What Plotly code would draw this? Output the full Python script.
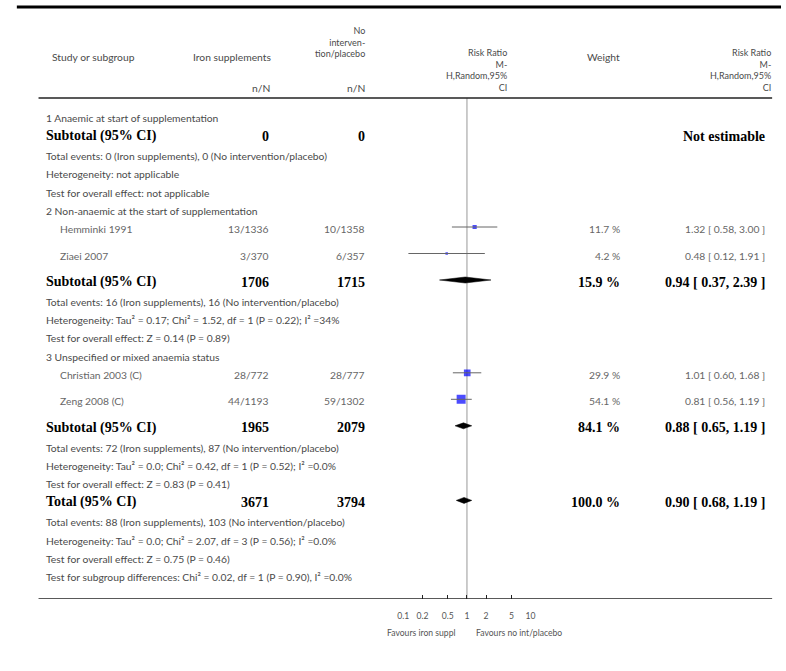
import math
import plotly.graph_objects as go

W, H = 786, 671

# ---------------- data ----------------
subgroups = [
    "1 Anaemic at start of supplementation",
    "2 Non-anaemic at the start of supplementation",
    "3 Unspecified or mixed anaemia status",
]

study_names = ["Hemminki 1991", "Ziaei 2007", "Christian 2003 (C)", "Zeng 2008 (C)"]
study_group = [1, 1, 2, 2]
iron_nN = ["13/1336", "3/370", "28/772", "44/1193"]
ctrl_nN = ["10/1358", "6/357", "28/777", "59/1302"]
study_rr = [1.32, 0.48, 1.01, 0.81]
study_lo = [0.58, 0.12, 0.60, 0.56]
study_hi = [3.00, 1.91, 1.68, 1.19]
study_weight = [11.7, 4.2, 29.9, 54.1]

sub_iron_N = [0, 1706, 1965]
sub_ctrl_N = [0, 1715, 2079]
sub_weight = [None, 15.9, 84.1]
sub_rr = [None, 0.94, 0.88]
sub_lo = [None, 0.37, 0.65]
sub_hi = [None, 2.39, 1.19]
sub_events = [
    "Total events: 0 (Iron supplements), 0 (No intervention/placebo)",
    "Total events: 16 (Iron supplements), 16 (No intervention/placebo)",
    "Total events: 72 (Iron supplements), 87 (No intervention/placebo)",
]
sub_het = [
    "Heterogeneity: not applicable",
    "Heterogeneity: Tau² = 0.17; Chi² = 1.52, df = 1 (P = 0.22); I² =34%",
    "Heterogeneity: Tau² = 0.0; Chi² = 0.42, df = 1 (P = 0.52); I² =0.0%",
]
sub_test = [
    "Test for overall effect: not applicable",
    "Test for overall effect: Z = 0.14 (P = 0.89)",
    "Test for overall effect: Z = 0.83 (P = 0.41)",
]

total_iron_N = 3671
total_ctrl_N = 3794
total_weight = 100.0
total_rr = 0.90
total_lo = 0.68
total_hi = 1.19
total_lines = [
    "Total events: 88 (Iron supplements), 103 (No intervention/placebo)",
    "Heterogeneity: Tau² = 0.0; Chi² = 2.07, df = 3 (P = 0.56); I² =0.0%",
    "Test for overall effect: Z = 0.75 (P = 0.46)",
    "Test for subgroup differences: Chi² = 0.02, df = 1 (P = 0.90), I² =0.0%",
]

tick_vals = [0.1, 0.2, 0.5, 1, 2, 5, 10]
tick_text = ["0.1", "0.2", "0.5", "1", "2", "5", "10"]
favours_left = "Favours iron suppl"
favours_right = "Favours no int/placebo"

# ---------------- layout constants ----------------
SANS = "Lato"
SERIF = "Liberation Serif"
FS = 10.3               # body / header text size
HEAD_FS = 9             # stacked column headings
BOLD_FS = 14
GREY = "#4a4a4a"
LIGHT = "#666666"
AXIS_Y = 599               # pixel row of the axis line
PLOT_L, PLOT_R = 403, 532  # pixel span of log10 range [-1, 1]

X_NAME, X_STUDY = 41, 55
X_IRON, X_CTRL = 267, 364
X_WEIGHT, X_RR = 623, 770

# ---------------- row structure ----------------
rows = []
for g, title in enumerate(subgroups):
    rows.append(("title", g))
    for i in range(len(study_names)):
        if study_group[i] == g:
            rows.append(("study", i))
    rows.append(("subtotal", g))
    rows.append(("stat", sub_events[g]))
    rows.append(("stat", sub_het[g]))
    rows.append(("stat", sub_test[g]))
rows.append(("total", None))
for line in total_lines:
    rows.append(("stat", line))

row_y = []
y = 118.0
prev = None
for kind, _ in rows:
    if prev is not None:
        if prev == "study":
            y += 26.5
        elif prev in ("subtotal", "total"):
            y += 20.0
        else:
            y += 18.2
    row_y.append(y)
    prev = kind

MARK_DY = -2.0

annotations = []


def px(x):
    return x / W


def label(text, x, y, anchor="left", size=FS, color=GREY, family=SANS, yref="y"):
    annotations.append(dict(
        text=text, x=px(x), y=y, xref="paper", yref=yref,
        xanchor=anchor, yanchor="middle", showarrow=False, align=anchor,
        borderpad=0, borderwidth=0,
        font=dict(family=family, size=size, color=color),
    ))


def below(py):
    return (AXIS_Y - py) / AXIS_Y


def rr_text(r, lo, hi):
    return f"{r:.2f} [ {lo:.2f}, {hi:.2f} ]"


fig = go.Figure()

ci_x, ci_y = [], []
sq_x, sq_y, sq_s = [], [], []
diamonds = []

for (kind, ref), yy in zip(rows, row_y):
    if kind == "title":
        label(subgroups[ref], X_NAME, yy)
    elif kind == "stat":
        label(ref, X_NAME, yy)
    elif kind == "study":
        i = ref
        label(study_names[i], X_STUDY, yy, color=LIGHT)
        label(iron_nN[i], X_IRON, yy, anchor="right", color=LIGHT)
        label(ctrl_nN[i], X_CTRL, yy, anchor="right", color=LIGHT)
        label(f"{study_weight[i]:.1f} %", X_WEIGHT, yy, anchor="right", color=LIGHT)
        label(rr_text(study_rr[i], study_lo[i], study_hi[i]), X_RR, yy,
              anchor="right", color=LIGHT)
        ci_x += [study_lo[i], study_hi[i], None]
        ci_y += [yy + MARK_DY, yy + MARK_DY, None]
        sq_x.append(study_rr[i])
        sq_y.append(yy + MARK_DY)
        sq_s.append(1.22 * math.sqrt(study_weight[i]))
    elif kind in ("subtotal", "total"):
        if kind == "subtotal":
            g = ref
            name = "Subtotal (95% CI)"
            n1, n2 = sub_iron_N[g], sub_ctrl_N[g]
            w, r, lo, hi = sub_weight[g], sub_rr[g], sub_lo[g], sub_hi[g]
        else:
            name = "Total (95% CI)"
            n1, n2 = total_iron_N, total_ctrl_N
            w, r, lo, hi = total_weight, total_rr, total_lo, total_hi
        bold = dict(size=BOLD_FS, color="black", family=SERIF)
        label(f"<b>{name}</b>", X_NAME, yy, **bold)
        label(f"<b>{n1}</b>", X_IRON, yy, anchor="right", **bold)
        label(f"<b>{n2}</b>", X_CTRL, yy, anchor="right", **bold)
        if w is None:
            label("<b>Not estimable</b>", X_RR, yy, anchor="right", **bold)
        else:
            label(f"<b>{w:.1f} %</b>", X_WEIGHT, yy, anchor="right", **bold)
            label(f"<b>{rr_text(r, lo, hi)}</b>", X_RR, yy, anchor="right", **bold)
            diamonds.append((r, lo, hi, yy + MARK_DY))

# study squares, area proportional to weight
fig.add_trace(go.Scatter(
    x=sq_x, y=sq_y, mode="markers",
    marker=dict(symbol="square", size=sq_s, color="#0000ff", line=dict(width=0)),
    hoverinfo="skip", showlegend=False,
))
# confidence interval whiskers, drawn across the squares
fig.add_trace(go.Scatter(
    x=ci_x, y=ci_y, mode="lines",
    line=dict(color="#666666", width=1), hoverinfo="skip", showlegend=False,
))
# pooled-estimate diamonds
for r, lo, hi, yy in diamonds:
    fig.add_trace(go.Scatter(
        x=[lo, r, hi, r, lo], y=[yy, yy - 3, yy, yy + 3, yy],
        mode="lines", fill="toself", fillcolor="black",
        line=dict(color="black", width=0.5), hoverinfo="skip", showlegend=False,
    ))

# ---------------- header ----------------
label("Study or subgroup", 47, 57)
label("Iron supplements", 269, 57, anchor="right")
label("No<br>interven-<br>tion/placebo", X_CTRL, 41.5, anchor="right", size=HEAD_FS)
label("n/N", X_IRON + 1, 88, anchor="right")
label("n/N", X_CTRL, 88, anchor="right")
label("Risk Ratio<br>M-<br>H,Random,95%<br>CI", 508, 69.5, anchor="right", size=HEAD_FS)
label("Weight", X_WEIGHT, 57, anchor="right")
label("Risk Ratio<br>M-<br>H,Random,95%<br>CI", 776, 69.5, anchor="right", size=HEAD_FS)

# ---------------- footer ----------------
label(favours_left, 456, below(633), anchor="right", size=8.6, color="#555555", yref="paper")
label(favours_right, 477, below(633), anchor="left", size=8.6, color="#555555", yref="paper")

shapes = [
    # heavy top rule
    dict(type="line", xref="paper", yref="y", x0=px(11), x1=px(786), y0=7, y1=7,
         line=dict(color="black", width=3)),
    # rule under the column header
    dict(type="line", xref="paper", yref="y", x0=px(33), x1=px(777), y0=98, y1=98,
         line=dict(color="#222222", width=1.5)),
    # axis rule
    dict(type="line", xref="paper", yref="y", x0=px(33), x1=px(777),
         y0=AXIS_Y, y1=AXIS_Y, line=dict(color="#222222", width=1.5)),
    # line of no effect
    dict(type="line", xref="x", yref="y", x0=1, x1=1, y0=98, y1=AXIS_Y,
         line=dict(color="#999999", width=1), layer="below"),
]

fig.update_layout(
    width=W, height=H,
    margin=dict(l=0, r=0, t=0, b=H - AXIS_Y, pad=0),
    paper_bgcolor="white", plot_bgcolor="white",
    showlegend=False,
    annotations=annotations,
    shapes=shapes,
    xaxis=dict(
        type="log", range=[-1, 1],
        domain=[PLOT_L / W, PLOT_R / W],
        tickvals=tick_vals, ticktext=tick_text,
        ticks="inside", ticklen=4, tickwidth=1.2, tickcolor="#222222",
        tickfont=dict(family=SANS, size=8.6, color="#555555"),
        ticklabelstandoff=10,
        showgrid=False, zeroline=False, showline=False, fixedrange=True,
    ),
    yaxis=dict(
        range=[AXIS_Y, 0], visible=False, showgrid=False, zeroline=False,
        fixedrange=True,
    ),
)

fig.write_html("out.html")
